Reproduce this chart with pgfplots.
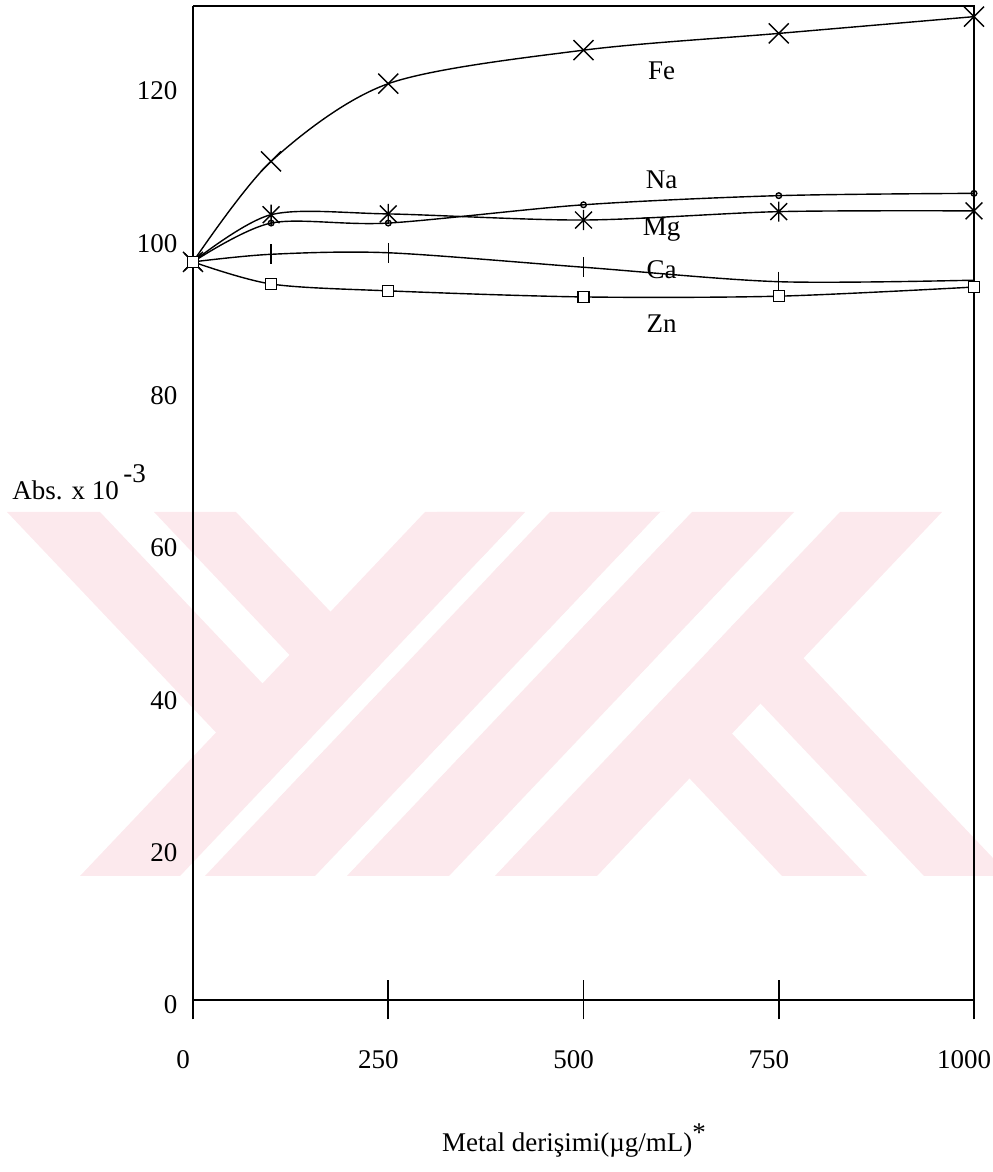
\documentclass[border=0pt]{standalone}
\usepackage{pgfplots}
\pgfplotsset{compat=1.18}
\usepackage{fontspec}
\setmainfont{Liberation Serif}
\definecolor{wm}{RGB}{252,233,237}
\newcommand\lf{\fontsize{13.5}{16}\selectfont}
\pgfdeclareplotmark{fex}{%
  \pgfpathmoveto{\pgfqpoint{-\pgfplotmarksize}{-\pgfplotmarksize}}%
  \pgfpathlineto{\pgfqpoint{\pgfplotmarksize}{\pgfplotmarksize}}%
  \pgfpathmoveto{\pgfqpoint{-\pgfplotmarksize}{\pgfplotmarksize}}%
  \pgfpathlineto{\pgfqpoint{\pgfplotmarksize}{-\pgfplotmarksize}}%
  \pgfusepathqstroke}
\pgfdeclareplotmark{xbar}{%
  \pgfpathmoveto{\pgfqpoint{-\pgfplotmarksize}{-\pgfplotmarksize}}%
  \pgfpathlineto{\pgfqpoint{\pgfplotmarksize}{\pgfplotmarksize}}%
  \pgfpathmoveto{\pgfqpoint{-\pgfplotmarksize}{\pgfplotmarksize}}%
  \pgfpathlineto{\pgfqpoint{\pgfplotmarksize}{-\pgfplotmarksize}}%
  \pgfpathmoveto{\pgfqpoint{0pt}{-1.2\pgfplotmarksize}}%
  \pgfpathlineto{\pgfqpoint{0pt}{1.2\pgfplotmarksize}}%
  \pgfusepathqstroke}
\begin{document}
\begin{tikzpicture}
\path[use as bounding box] (0,0) rectangle (496pt,586pt);
% watermark
\begin{scope}[x=1pt,y=1pt]
 \fill[wm] (3.5,330) -- (50,330) -- (222.5,148) -- (176,148) -- cycle;
 \fill[wm] (77,330) -- (118,330) -- (290.5,148) -- (249.5,148) -- cycle;
 \fill[wm] (218.5,330) -- (261,330) -- (433.5,148) -- (391,148) -- cycle;
 \fill[wm] (289.5,330) -- (332.5,330) -- (505,148) -- (462,148) -- cycle;
 \fill[white] (262.5,330) -- (275,330) -- (102.5,148) -- (90,148) -- cycle;
 \fill[white] (330,330) -- (346,330) -- (173.5,148) -- (157.5,148) -- cycle;
 \fill[white] (397,330) -- (420,330) -- (247.5,148) -- (224.5,148) -- cycle;
 \fill[wm] (212.5,330) -- (262.5,330) -- (90,148) -- (40,148) -- cycle;
 \fill[wm] (275,330) -- (330,330) -- (157.5,148) -- (102.5,148) -- cycle;
 \fill[wm] (346,330) -- (397,330) -- (224.5,148) -- (173.5,148) -- cycle;
 \fill[wm] (420,330) -- (471,330) -- (298.5,148) -- (247.5,148) -- cycle;
\end{scope}
\begin{axis}[
  at={(96.5pt,76.5pt)}, anchor=south west,
  scale only axis, width=390.5pt, height=506.5pt,
  xmin=0, xmax=1000, ymin=-2.5, ymax=130.5,
  axis x line=middle, axis y line=left,
  axis line style={-, line width=0.8pt, black},
  hide obscured x ticks=false, hide obscured y ticks=false,
  xtick={0,250,500,750,1000}, xticklabels={0,250,500,750,1000},
  ytick={0,20,40,60,80,100,120}, yticklabels={0,20,40,60,80,100,120},
  major tick length=19.5pt,
  xtick align=center,
  xtick style={line width=0.8pt, black},
  ytick style={draw=none},
  tick label style={font=\lf},
  xticklabel style={anchor=north, xshift=-5pt, yshift=-12pt},
  yticklabel style={anchor=east, xshift=5.5pt, yshift=-2.5pt},
  clip=false,
  every axis plot/.append style={black, line width=0.7pt, smooth},
]
\addplot[mark=fex, mark size=5pt] coordinates {(0,96.9) (100,110.1) (250,120.3) (500,124.7) (750,126.9) (1000,129.1)};
\addplot[mark=o, mark size=1.4pt] coordinates {(0,96.9) (100,102.0) (250,102.0) (500,104.4) (750,105.6) (1000,105.9)};
\addplot[mark=xbar, mark size=4.2pt] coordinates {(0,96.9) (100,103.1) (250,103.2) (500,102.4) (750,103.5) (1000,103.6)};
\addplot[mark=|, mark size=5pt] coordinates {(0,96.9) (100,97.9) (250,98.1) (500,96.2) (750,94.3) (1000,94.5)};
\addplot[mark=square*, mark size=2.75pt, mark options={fill=white}] coordinates {(0,96.9) (100,94.0) (250,93.1) (500,92.3) (750,92.4) (1000,93.6)};
\draw[line width=0.8pt] (rel axis cs:0,1) -- (rel axis cs:1,1) -- (rel axis cs:1,0);
\node[anchor=base, font=\lf] at (axis cs:600,120.8) {Fe};
\node[anchor=base, font=\lf] at (axis cs:600,106.6) {Na};
\node[anchor=base, font=\lf] at (axis cs:600,100.4) {Mg};
\node[anchor=base, font=\lf] at (axis cs:600,94.7) {Ca};
\node[anchor=base, font=\lf] at (axis cs:600,87.6) {Zn};
\end{axis}
\node[anchor=base west, font=\lf, inner sep=0pt] at (6pt,336pt) {Abs. x 10\,\raisebox{8.5pt}{-3}};
\node[anchor=base, font=\lf, inner sep=0pt] at (287pt,10pt) {Metal derişimi(µg/mL)\raisebox{5pt}{*}};
\end{tikzpicture}
\end{document}
